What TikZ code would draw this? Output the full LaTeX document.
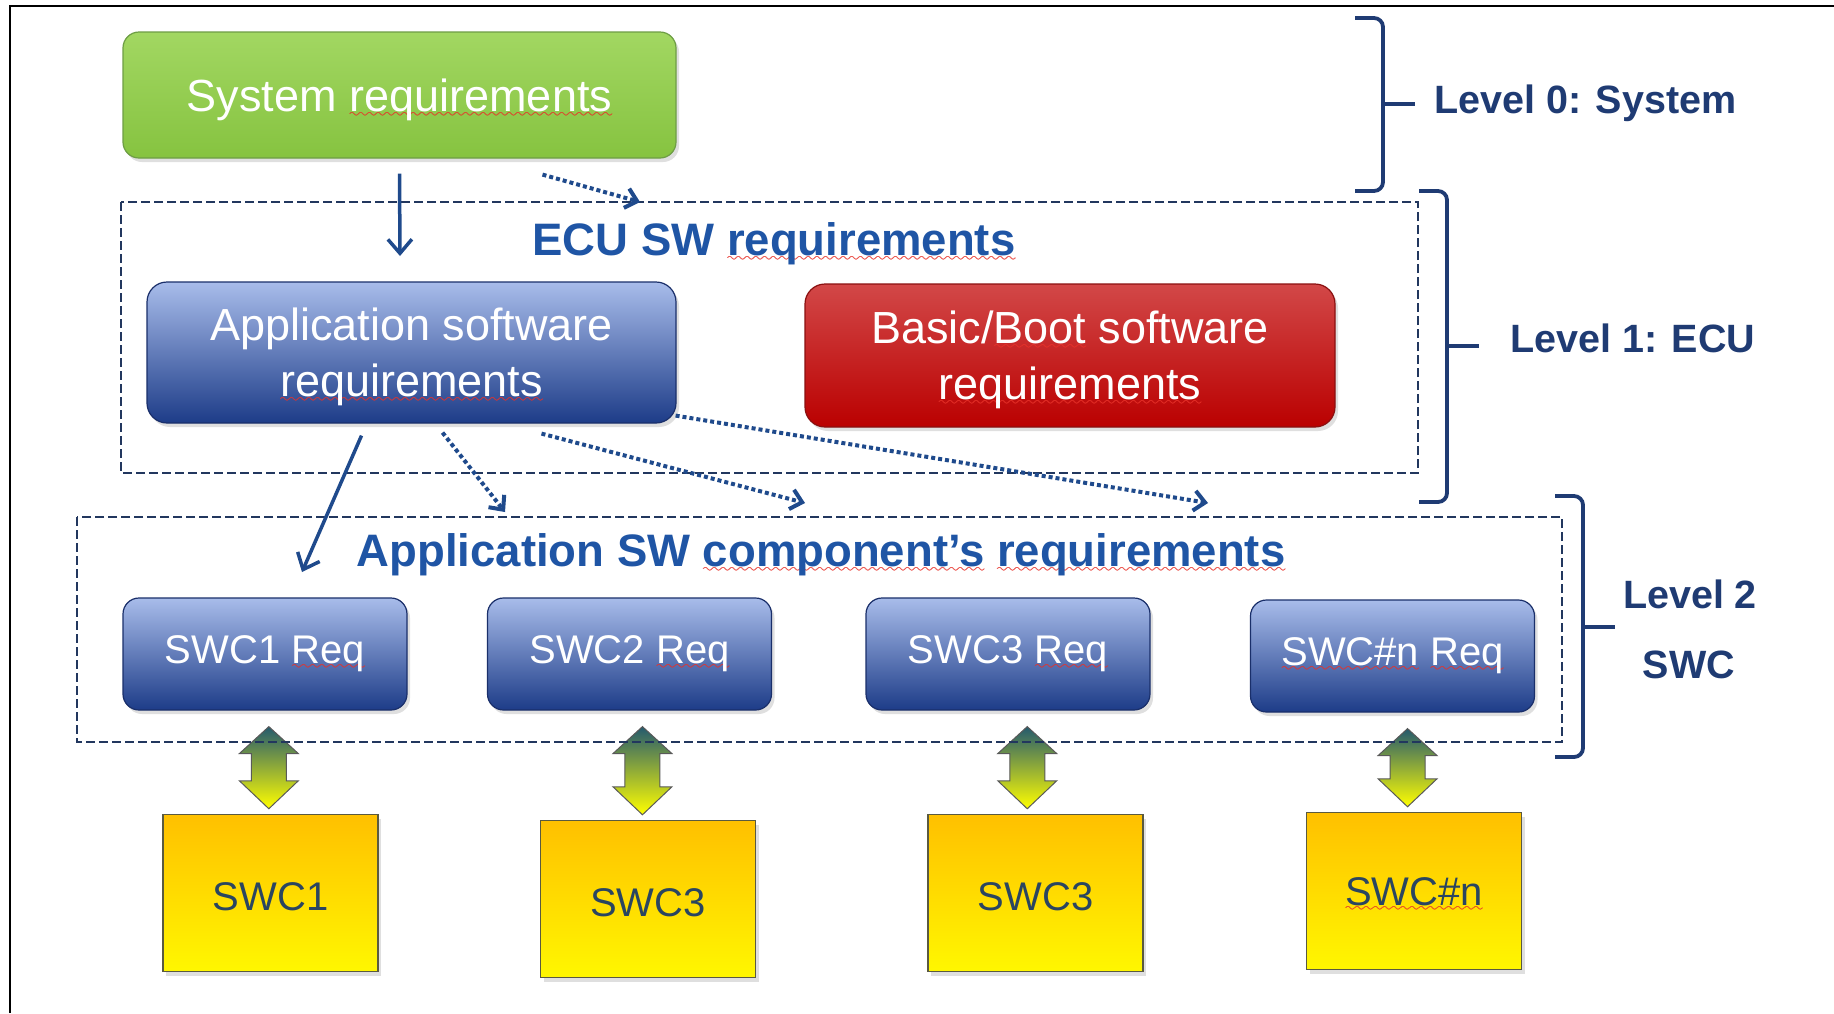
\documentclass[tikz,border=0pt]{standalone}
\usepackage{fontspec}
\setmainfont{Liberation Sans}
\usetikzlibrary{calc,arrows.meta,shadows}

\definecolor{navy}{HTML}{1F3B73}
\definecolor{titleblue}{HTML}{1F55A5}
\definecolor{arrowblue}{HTML}{1F4A8C}
\definecolor{dashnavy}{HTML}{22375E}
\definecolor{spellred}{HTML}{E8322A}
\definecolor{greentop}{HTML}{A2D762}
\definecolor{greenbot}{HTML}{86C340}
\definecolor{greenline}{HTML}{6E9E45}
\definecolor{bluetop}{HTML}{A8BCEA}
\definecolor{bluebot}{HTML}{1D3C88}
\definecolor{blueline}{HTML}{1A2F6A}
\definecolor{redtop}{HTML}{D24848}
\definecolor{redbot}{HTML}{BA0000}
\definecolor{redline}{HTML}{8A1010}
\definecolor{ambertop}{HTML}{FFC000}
\definecolor{amberbot}{HTML}{FFF700}
\definecolor{amberline}{HTML}{5A5A40}
\definecolor{swctext}{HTML}{2A4560}
\definecolor{tealtop}{HTML}{245A6E}
\definecolor{olivemid}{HTML}{93B236}

% red spell-check wave under a word
\font\wavefont=lasy10 at 13pt
\newsavebox\spellbox
\newcommand\spell[1]{\sbox\spellbox{#1}%
  \rlap{\color{spellred}\lower6pt\hbox to\wd\spellbox{\xleaders\hbox{\wavefont\char58}\hfill}}%
  \rlap{\color{spellred}\kern0.6pt\lower6pt\hbox to\wd\spellbox{\xleaders\hbox{\wavefont\char58}\hfill}}%
  \usebox\spellbox}
% taller first line, pushes two-line box text down a little
\newcommand\topgap{\rule{0pt}{42pt}}

\tikzset{
  roundbox/.style={rounded corners=16pt, inner sep=0pt, align=center, text=white, line width=1.2pt,
    font=\fontsize{45}{56}\selectfont,
    drop shadow={opacity=0.25,shadow xshift=3pt,shadow yshift=-4pt}},
  sysbox/.style={roundbox, draw=greenline, top color=greentop, bottom color=greenbot,
    execute at begin node={\rule{0pt}{43pt}}, minimum width=553pt, minimum height=126pt},
  appbox/.style={roundbox, rounded corners=20pt, draw=blueline, top color=bluetop, bottom color=bluebot,
    minimum width=529pt, minimum height=141pt},
  bootbox/.style={roundbox, rounded corners=20pt, draw=redline, top color=redtop, bottom color=redbot,
    minimum width=530pt, minimum height=143pt},
  reqbox/.style={roundbox, draw=blueline, top color=bluetop, bottom color=bluebot,
    font=\fontsize{40}{48}\selectfont, minimum width=284pt, minimum height=112pt},
  swcbox/.style={draw=amberline, line width=1.5pt, top color=ambertop, bottom color=amberbot,
    text=swctext, font=\fontsize{40}{48}\selectfont, inner sep=0pt,
    execute at begin node={\rule{0pt}{35pt}},
    minimum width=215pt, minimum height=157pt, drop shadow={opacity=0.25,shadow xshift=3pt,shadow yshift=-4pt}},
  groupbox/.style={draw=dashnavy, line width=2.5pt, dash pattern=on 9pt off 4pt},
  titletext/.style={font=\fontsize{45.5}{54}\selectfont\bfseries, text=titleblue, anchor=base, inner sep=0pt},
  leveltext/.style={font=\fontsize{39.5}{48}\selectfont\bfseries, text=navy, inner sep=0pt},
  bracestyle/.style={draw=navy, line width=3.8pt, rounded corners=9pt},
  flowarrow/.style={draw=arrowblue, line width=3.5pt, -{Straight Barb[length=14pt,width=24pt]}},
  refarrow/.style={flowarrow, line width=4pt, dash pattern=on 4pt off 3pt, -{Straight Barb[length=11pt,width=20pt]}},
  linkshade/.style={draw=black!65, line width=1pt, top color=tealtop, middle color=olivemid, bottom color=yellow}
}

% level bracket: (x of spine : top : bottom : tick)
\def\levelbrace(#1:#2:#3:#4){%
  \draw[bracestyle] (#1-28,#2) -- (#1,#2) -- (#1,#3) -- (#1-28,#3);
  \draw[bracestyle] (#1,#4) -- (#1+32,#4);}

% fat two-way arrow between a req box and its component
\def\linkarrow#1#2{%
  \path[linkshade] let \p1=(#1.south), \p2=(#2.north), \n1={0.3*\x1+0.7*\x2} in
    (\n1,\y1-16pt) -- (\n1+29.5pt,\y1-43pt) -- (\n1+17.5pt,\y1-43pt) -- (\n1+17.5pt,\y2+33pt)
    -- (\n1+29.5pt,\y2+33pt) -- (\n1,\y2+5pt) -- (\n1-29.5pt,\y2+33pt) -- (\n1-17.5pt,\y2+33pt)
    -- (\n1-17.5pt,\y1-43pt) -- (\n1-29.5pt,\y1-43pt) -- cycle;}

\begin{document}
\begin{tikzpicture}[x=1pt,y=-1pt]
			%%%%% START %%%%%
			\fill[white] (0,0) rectangle (1834,1013);
			\useasboundingbox (0,0) rectangle (1834,1013);
			\draw[line width=2.5pt] (10,1013) -- (10,6) -- (1834,6);

			\node[sysbox] (sys) at (399.5,95) {System \spell{requirements}};
			\node[appbox] (app) at (411.5,352.5) {\topgap Application software\\\spell{requirements}};
			\node[bootbox] (boot) at (1070,355.5) {\topgap Basic/\spell{Boot} software\\\spell{requirements}};

			\node[reqbox] (req1) at (265,654) {SWC1 \spell{Req}};
			\node[reqbox] (req2) at (629.5,654) {SWC2 \spell{Req}};
			\node[reqbox] (req3) at (1008,654) {SWC3 \spell{Req}};
			\node[reqbox] (req4) at (1392.5,656) {\spell{SWC\#n} \spell{Req}};

			\node[swcbox] (swc1) at (270.5,893) {SWC1};
			\node[swcbox] (swc2) at (648,899) {SWC3};
			\node[swcbox] (swc3) at (1035.5,893) {SWC3};
			\node[swcbox] (swc4) at (1414,891) {\spell{SWC\#n}};

			\linkarrow{req1}{swc1}
			\linkarrow{req2}{swc2}
			\linkarrow{req3}{swc3}
			\linkarrow{req4}{swc4}

			\draw[groupbox] (121,202) rectangle (1418,473);
			\draw[groupbox] (77,517) rectangle (1562,742);
			\node[titletext] (ecutitle) at (774,255) {ECU SW \spell{requirements}};
			\node[titletext] (swctitle) at (821,566) {Application SW \spell{component’s} \spell{requirements}};

			\coordinate (ecuin) at (400,256);
			\coordinate (ecutop) at (640,202);
			\draw[flowarrow] ([yshift=-15pt]sys.south) -- (ecuin);
			\draw[refarrow] ([xshift=143pt,yshift=-16pt]sys.south) -- (ecutop);

			\coordinate (reqin) at (302,572);
			\coordinate (swctop1) at (505,512);
			\coordinate (swctop2) at (805,503);
			\coordinate (swctop3) at (1208,503);
			\draw[flowarrow] ([xshift=-50pt,yshift=-12pt]app.south) -- (reqin);
			\draw[refarrow] ([xshift=31pt,yshift=-9pt]app.south) -- (swctop1);
			\draw[refarrow] ([xshift=130pt,yshift=-10pt]app.south) -- (swctop2);
			\draw[refarrow] ([xshift=-1pt,yshift=8pt]app.south east) -- (swctop3);

			\levelbrace(1383:18:191:104)
			\levelbrace(1447:191:502:346)
			\levelbrace(1583:496:757:627)
			\node[leveltext, anchor=base west] (lvl0) at (1434,113) {Level 0: System};
			\node[leveltext, anchor=base west] (lvl1) at (1510,352) {Level 1: ECU};
			\node[leveltext, anchor=base] (lvl2) at (1690,608) {Level 2};
			\node[leveltext, anchor=base] (lvl2b) at (1689,678) {SWC};
			%%%%% END %%%%%
\end{tikzpicture}
\end{document}
